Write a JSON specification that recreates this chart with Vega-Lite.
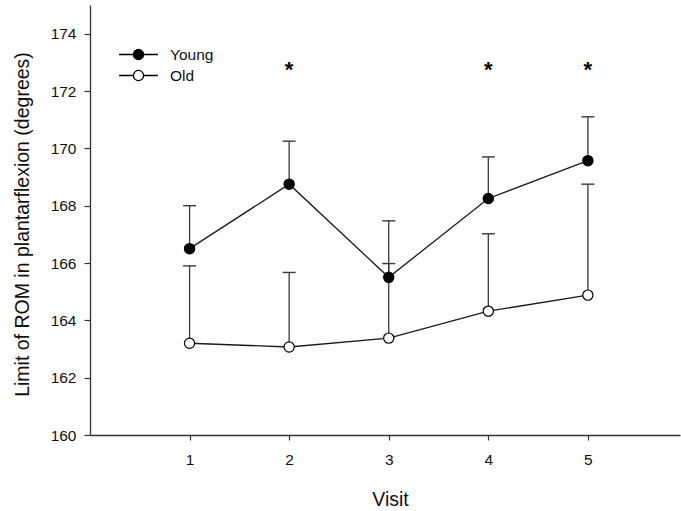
{
  "$schema": "https://vega.github.io/schema/vega-lite/v6.json",
  "width": 590,
  "height": 430,
  "autosize": {"type": "none"},
  "padding": {"left": 90, "top": 5, "right": 1, "bottom": 76},
  "background": "white",
  "config": {
    "view": {"stroke": null},
    "font": "Liberation Sans",
    "axis": {
      "grid": false,
      "domainColor": "#333333",
      "domainWidth": 1.3,
      "tickColor": "#333333",
      "tickWidth": 1.2,
      "labelColor": "#111111",
      "titleColor": "#111111",
      "labelFont": "Liberation Sans",
      "titleFont": "Liberation Sans",
      "titleFontWeight": "normal",
      "labelFontSize": 15.5,
      "titleFontSize": 19.5
    }
  },
  "datasets": {
    "rom": [
      {"group": "Young", "visit": 1, "mean": 166.5, "upper": 168.0},
      {"group": "Young", "visit": 2, "mean": 168.75, "upper": 170.25},
      {"group": "Young", "visit": 3, "mean": 165.5, "upper": 167.47},
      {"group": "Young", "visit": 4, "mean": 168.25, "upper": 169.7},
      {"group": "Young", "visit": 5, "mean": 169.57, "upper": 171.1},
      {"group": "Old", "visit": 1, "mean": 163.2, "upper": 165.9},
      {"group": "Old", "visit": 2, "mean": 163.07, "upper": 165.67},
      {"group": "Old", "visit": 3, "mean": 163.38, "upper": 165.98},
      {"group": "Old", "visit": 4, "mean": 164.32, "upper": 167.02},
      {"group": "Old", "visit": 5, "mean": 164.88, "upper": 168.75}
    ],
    "significance": [
      {"visit": 2, "y": 172.75, "mark": "*"},
      {"visit": 4, "y": 172.75, "mark": "*"},
      {"visit": 5, "y": 172.75, "mark": "*"}
    ]
  },
  "encoding": {
    "x": {
      "field": "visit",
      "type": "quantitative",
      "scale": {"domain": [0, 5.925], "nice": false, "zero": false},
      "axis": {
        "title": "Visit",
        "values": [1, 2, 3, 4, 5],
        "tickSize": 5,
        "labelPadding": 12,
        "titleX": 300,
        "titleY": 70,
        "titleBaseline": "alphabetic",
        "titleAnchor": "middle"
      }
    }
  },
  "layer": [
    {
      "data": {"name": "rom"},
      "mark": {"type": "rule", "color": "#3a3a3a", "strokeWidth": 1.3},
      "encoding": {
        "y": {
          "field": "mean",
          "type": "quantitative",
          "scale": {"domain": [160, 175], "nice": false, "zero": false},
          "axis": {
            "title": "Limit of ROM in plantarflexion (degrees)",
            "values": [160, 162, 164, 166, 168, 170, 172, 174],
            "tickSize": 6,
            "labelPadding": 8,
            "titleX": -68,
            "titleY": 219,
            "titleAngle": -90,
            "titleBaseline": "middle",
            "titleAnchor": "middle"
          }
        },
        "y2": {"field": "upper"}
      }
    },
    {
      "data": {"name": "rom"},
      "mark": {"type": "tick", "orient": "horizontal", "color": "#3a3a3a", "size": 13, "thickness": 1.4, "opacity": 1},
      "encoding": {
        "y": {"field": "upper", "type": "quantitative"}
      }
    },
    {
      "data": {"name": "rom"},
      "mark": {"type": "line", "color": "#1a1a1a", "strokeWidth": 1.3},
      "encoding": {
        "y": {"field": "mean", "type": "quantitative"},
        "detail": {"field": "group"}
      }
    },
    {
      "data": {"name": "rom"},
      "mark": {"type": "point", "shape": "circle", "filled": true, "size": 105, "stroke": "#000000", "strokeWidth": 1.2, "opacity": 1},
      "encoding": {
        "y": {"field": "mean", "type": "quantitative"},
        "fill": {
          "field": "group",
          "type": "nominal",
          "scale": {"domain": ["Young", "Old"], "range": ["#000000", "#ffffff"]},
          "legend": {
            "title": null,
            "orient": "none",
            "legendX": 28,
            "legendY": 39,
            "padding": 0,
            "rowPadding": 0,
            "clipHeight": 21,
            "symbolType": "M-1,0H-0.26M0.26,0H1M0.26,0A0.26,0.26,0,1,1,-0.26,0A0.26,0.26,0,1,1,0.26,0Z",
            "symbolSize": 1521,
            "symbolStrokeColor": "#000000",
            "symbolStrokeWidth": 1.3,
            "symbolOpacity": 1,
            "labelOffset": 11,
            "labelFont": "Liberation Sans",
            "labelFontSize": 15.5,
            "labelColor": "#111111"
          }
        }
      }
    },
    {
      "data": {"name": "significance"},
      "mark": {"type": "text", "fontSize": 22, "baseline": "middle", "color": "#000000", "font": "Liberation Sans", "fontWeight": "bold"},
      "encoding": {
        "y": {"field": "y", "type": "quantitative"},
        "text": {"field": "mark"}
      }
    }
  ]
}
